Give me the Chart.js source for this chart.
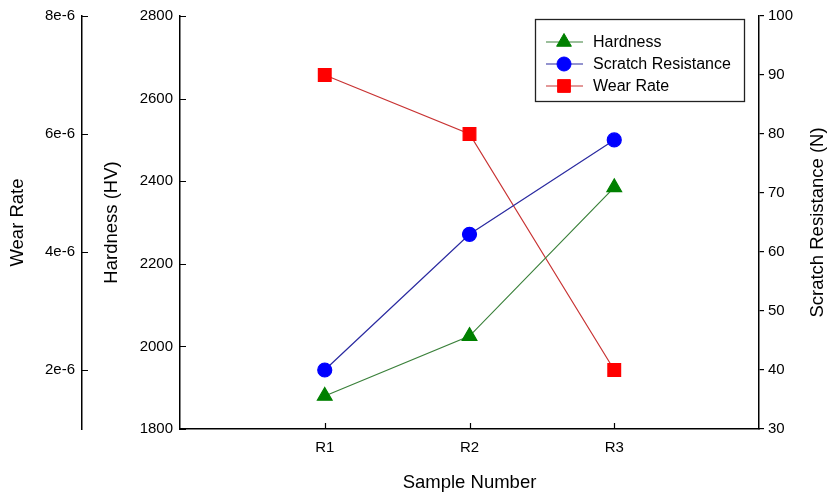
<!DOCTYPE html>
<html>
<head>
<meta charset="utf-8">
<script src="https://cdn.jsdelivr.net/npm/chart.js@4"></script>
<style>
  body { margin: 0; background: #fff; }
  #wrap { width: 828px; height: 496px; }
</style>
</head>
<body>
<div id="wrap"><canvas id="myChart" width="828" height="496"></canvas></div>
<script>
// data
const categories = ['R1', 'R2', 'R3'];
const hardness = [1880, 2025, 2385];
const scratch = [40, 63, 79];
const wearRate = [7e-6, 6e-6, 2e-6];
const wearTickValues = [2e-6, 4e-6, 6e-6, 8e-6];
const wearTickLabels = ['2e-6', '4e-6', '6e-6', '8e-6'];

const FONT = "'Liberation Sans', Arial, sans-serif";
const TICK_SIZE = 15;
const TITLE_SIZE = 18.5;

function toPoints(values) {
    return values.map(function (v, i) { return { x: i + 1, y: v }; });
}

// inward tick marks for x, hardness and wear axes + the right title
const tickMarks = {
    id: 'tickMarks',
    afterDraw: function (chart) {
        const ctx = chart.ctx;
        const sx = chart.scales.x, sh = chart.scales.yHard, sw = chart.scales.yWear, ss = chart.scales.yScratch;
        ctx.save();
        ctx.strokeStyle = '#000';
        ctx.lineWidth = 1.2;
        ctx.beginPath();
        sx.ticks.forEach(function (t) {
            const px = Math.round(sx.getPixelForValue(t.value)) + 0.5;
            ctx.moveTo(px, sx.top); ctx.lineTo(px, sx.top - 6);
        });
        sh.ticks.forEach(function (t) {
            const py = Math.round(sh.getPixelForValue(t.value)) + 0.5;
            ctx.moveTo(sh.right, py); ctx.lineTo(sh.right + 6, py);
        });
        sw.ticks.forEach(function (t) {
            const py = Math.round(sw.getPixelForValue(t.value)) + 0.5;
            ctx.moveTo(sw.right, py); ctx.lineTo(sw.right + 6, py);
        });
        ctx.stroke();

        // right axis title reads bottom to top
        ctx.fillStyle = '#000';
        ctx.font = TITLE_SIZE + 'px ' + FONT;
        ctx.textAlign = 'center';
        ctx.textBaseline = 'middle';
        ctx.translate(ss.right - 10, (chart.chartArea.top + chart.chartArea.bottom) / 2);
        ctx.rotate(-Math.PI / 2);
        ctx.fillText('Scratch Resistance (N)', 0, 0);
        ctx.restore();
    }
};

// framed legend inside the plot, top right
const boxLegend = {
    id: 'boxLegend',
    afterDraw: function (chart) {
        const ctx = chart.ctx;
        const area = chart.chartArea;
        const right = area.right - 15, top = area.top + 3;
        const w = 209, h = 82;
        const left = right - w;
        ctx.save();
        ctx.fillStyle = '#fff';
        ctx.fillRect(left, top, w, h);
        ctx.strokeStyle = '#222';
        ctx.lineWidth = 1.3;
        ctx.strokeRect(left + 0.5, top + 0.5, w, h);
        chart.data.datasets.forEach(function (ds, i) {
            const y = top + 23 + i * 22;
            ctx.strokeStyle = ds.borderColor;
            ctx.lineWidth = ds.borderWidth;
            ctx.beginPath();
            ctx.moveTo(left + 11, y); ctx.lineTo(left + 48, y);
            ctx.stroke();
            ctx.fillStyle = ds.pointBackgroundColor;
            ctx.strokeStyle = ds.pointBorderColor;
            ctx.lineWidth = 1;
            Chart.helpers.drawPoint(ctx, {
                pointStyle: ds.pointStyle, radius: ds.pointRadius, rotation: 0, borderWidth: 1
            }, left + 29, y);
            ctx.fillStyle = '#000';
            ctx.font = '16px ' + FONT;
            ctx.textAlign = 'left';
            ctx.textBaseline = 'middle';
            ctx.fillText(ds.label, left + 58, y + 1);
        });
        ctx.restore();
    }
};

const ctx = document.getElementById('myChart').getContext('2d');
const myChart = new Chart(ctx, {
    type: 'line',
    data: {
        datasets: [{
            label: 'Hardness',
            data: toPoints(hardness),
            yAxisID: 'yHard',
            borderColor: '#3a803a',
            borderWidth: 1.2,
            pointStyle: 'triangle',
            pointRadius: 8.5,
            pointBackgroundColor: '#008000',
            pointBorderColor: '#008000'
        }, {
            label: 'Scratch Resistance',
            data: toPoints(scratch),
            yAxisID: 'yScratch',
            borderColor: '#2a2aa0',
            borderWidth: 1.2,
            pointStyle: 'circle',
            pointRadius: 7,
            pointBackgroundColor: '#0000ff',
            pointBorderColor: '#0000ff'
        }, {
            label: 'Wear Rate',
            data: toPoints(wearRate),
            yAxisID: 'yWear',
            borderColor: '#c83232',
            borderWidth: 1.2,
            pointStyle: 'rect',
            pointRadius: 9,
            pointBackgroundColor: '#ff0000',
            pointBorderColor: '#ff0000'
        }]
    },
    options: {
        responsive: false,
        animation: false,
        layout: { padding: { top: 14, left: 0, right: 0, bottom: 0 } },
        plugins: {
            legend: { display: false },
            tooltip: { enabled: false }
        },
        scales: {
            x: {
                type: 'linear',
                min: 0,
                max: 4,
                afterBuildTicks: function (scale) {
                    scale.ticks = categories.map(function (c, i) { return { value: i + 1 }; });
                },
                afterFit: function (scale) { scale.height = 67; },
                grid: { display: false, drawTicks: false },
                border: { display: true, color: '#000', width: 1.5 },
                ticks: {
                    autoSkip: false,
                    padding: 10,
                    color: '#000',
                    font: { family: FONT, size: TICK_SIZE },
                    callback: function (value) { return categories[value - 1]; }
                },
                title: {
                    display: true,
                    text: 'Sample Number',
                    color: '#000',
                    font: { family: FONT, size: TITLE_SIZE },
                    padding: { top: 0, bottom: 2 }
                }
            },
            yWear: {
                type: 'linear',
                position: 'left',
                weight: 1,
                min: 1e-6,
                max: 8e-6,
                afterBuildTicks: function (scale) {
                    scale.ticks = wearTickValues.map(function (v) { return { value: v }; });
                },
                afterFit: function (scale) { scale.width = 82; },
                grid: { display: false, drawTicks: false },
                border: { display: true, color: '#000', width: 1.5 },
                ticks: {
                    padding: 7,
                    color: '#000',
                    font: { family: FONT, size: TICK_SIZE },
                    callback: function (value, index) { return wearTickLabels[index]; }
                },
                title: {
                    display: true,
                    text: 'Wear Rate',
                    color: '#000',
                    font: { family: FONT, size: TITLE_SIZE },
                    padding: { top: 7, bottom: 0 }
                }
            },
            yHard: {
                type: 'linear',
                position: 'left',
                weight: 0,
                min: 1800,
                max: 2800,
                afterFit: function (scale) { scale.width = 98; },
                grid: { display: false, drawTicks: false },
                border: { display: true, color: '#000', width: 1.5 },
                ticks: {
                    stepSize: 200,
                    padding: 7,
                    color: '#000',
                    font: { family: FONT, size: TICK_SIZE },
                    callback: function (value) { return String(value); }
                },
                title: {
                    display: true,
                    text: 'Hardness (HV)',
                    color: '#000',
                    font: { family: FONT, size: TITLE_SIZE },
                    padding: { top: 19, bottom: 0 }
                }
            },
            yScratch: {
                type: 'linear',
                position: 'right',
                min: 30,
                max: 100,
                afterFit: function (scale) { scale.width = 69; },
                grid: { display: true, drawOnChartArea: false, tickLength: 5, color: '#000', lineWidth: 1.2 },
                border: { display: true, color: '#000', width: 1.5 },
                ticks: {
                    stepSize: 10,
                    padding: 4,
                    color: '#000',
                    font: { family: FONT, size: TICK_SIZE },
                    callback: function (value) { return String(value); }
                }
            }
        }
    },
    plugins: [tickMarks, boxLegend]
});
</script>
</body>
</html>
